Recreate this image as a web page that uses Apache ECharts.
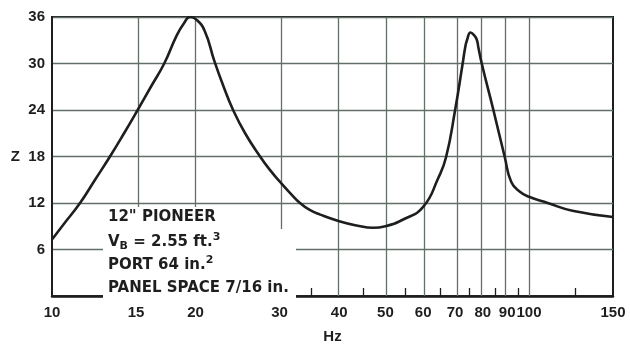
<!DOCTYPE html>
<html>
<head>
<meta charset="utf-8">
<script src="https://cdn.jsdelivr.net/npm/echarts@6/dist/echarts.min.js"></script>
<style>
  html, body { margin: 0; padding: 0; background: #fff; }
  #chart { width: 630px; height: 349px; }
</style>
</head>
<body>
<div id="chart"></div>
<script>
// impedance curve (Hz, ohms)
const freqHz = [10, 10.56, 11.45, 12.31, 13.23, 14.16, 15.12, 16.12, 17.19, 18.25, 18.91, 19.47, 20.05, 20.9, 21.9, 22.9, 23.97, 25.4, 27.3, 28.6, 30, 31.5, 33.1, 34.7, 36.5, 40, 43.5, 47.1, 50, 54.6, 60, 64.5, 67, 70, 72.6, 73.5, 74.2, 75.4, 76.6, 77.7, 78.3, 79.6, 84.2, 88.9, 91.8, 95.7, 100, 109.4, 123.3, 150];
const impedance = [7.3, 9.2, 12, 15, 18, 21, 24, 27, 30, 33.6, 35.2, 36, 35.7, 34.2, 30.3, 27, 24, 21.0, 18, 16.3, 14.8, 13.35, 12, 11.1, 10.5, 9.65, 9.1, 8.8, 9.0, 9.9, 11.5, 15.2, 17.9, 24, 30, 32.1, 33.1, 34, 33.7, 33.1, 32.1, 30, 24, 18, 14.7, 13.45, 12.8, 12, 11, 10.2];

const xMajorTicks = [10, 15, 20, 30, 40, 50, 60, 70, 80, 90, 100, 150];
const xMinorTicks = [25, 35, 45, 55, 65, 75, 85, 95, 125];
const yMin = 0, yMax = 36, yStep = 6;

const ink = '#1e1e1e';
const gridInk = '#627068';
const tickFont = 'Liberation Sans';
const noteFont = 'DejaVu Sans';

const chart = echarts.init(document.getElementById('chart'), null, { renderer: 'canvas' });

const lg = v => Math.log10(v);
const labelStyle = { color: ink, fontSize: 15, fontWeight: 'bold', fontFamily: tickFont };

const option = {
  backgroundColor: '#fff',
  animation: false,
  grid: {
    left: 52, right: 17, top: 17, bottom: 44,
    show: true, borderColor: ink, borderWidth: 2
  },
  xAxis: {
    type: 'value',
    min: lg(10),
    max: lg(150),
    name: 'Hz',
    nameLocation: 'middle',
    nameGap: 33,
    nameTextStyle: labelStyle,
    axisLine: { show: true, lineStyle: { color: ink, width: 2.5 } },
    axisTick: {
      show: true, inside: true, length: 8,
      customValues: xMinorTicks.map(lg),
      lineStyle: { color: ink, width: 1.3 }
    },
    axisLabel: Object.assign({
      customValues: xMajorTicks.map(lg),
      formatter: v => String(Math.round(Math.pow(10, v))),
      margin: 9
    }, labelStyle),
    splitLine: { show: false }
  },
  yAxis: {
    type: 'value',
    min: yMin, max: yMax, interval: yStep,
    name: 'Z',
    nameLocation: 'middle',
    nameRotate: 0,
    nameGap: 32,
    nameTextStyle: labelStyle,
    axisLine: { show: true, lineStyle: { color: ink, width: 2 } },
    axisTick: { show: false },
    axisLabel: Object.assign({
      formatter: v => (v === 0 ? '' : String(v)),
      margin: 7
    }, labelStyle),
    splitLine: { lineStyle: { color: gridInk, width: 1.3 } }
  },
  series: [
    {
      // vertical grid lines at the labelled frequencies
      type: 'line',
      data: [],
      z: 1,
      markLine: {
        silent: true,
        symbol: 'none',
        z: 1,
        label: { show: false },
        lineStyle: { color: gridInk, width: 1.3, type: 'solid' },
        data: xMajorTicks.slice(1, -1).map(v => ({ xAxis: lg(v) }))
      }
    },
    {
      type: 'line',
      z: 5,
      smooth: 0.5,
      showSymbol: false,
      lineStyle: { color: ink, width: 2.6 },
      data: freqHz.map((f, i) => [lg(f), impedance[i]])
    }
  ],
  graphic: [
    { type: 'rect', z: 50, shape: { x: 103, y: 207, width: 118, height: 22 }, style: { fill: '#fff' } },
    { type: 'rect', z: 50, shape: { x: 103, y: 229, width: 193, height: 70 }, style: { fill: '#fff' } },
    {
      type: 'text', z: 60, left: 108, top: 210,
      style: { text: '12" PIONEER', fill: ink, font: 'bold 15px "DejaVu Sans"' }
    },
    {
      type: 'text', z: 60, left: 108, top: 232,
      style: {
        text: '{t|V}{s|B}{t| = 2.55 ft.}{p|3}',
        rich: {
          t: { fill: ink, fontSize: 15, fontWeight: 'bold', fontFamily: noteFont, lineHeight: 20, verticalAlign: 'middle' },
          s: { fill: ink, fontSize: 11, fontWeight: 'bold', fontFamily: noteFont, lineHeight: 20, verticalAlign: 'bottom' },
          p: { fill: ink, fontSize: 11, fontWeight: 'bold', fontFamily: noteFont, lineHeight: 20, verticalAlign: 'top' }
        }
      }
    },
    {
      type: 'text', z: 60, left: 108, top: 255,
      style: {
        text: '{t|PORT 64 in.}{p|2}',
        rich: {
          t: { fill: ink, fontSize: 15, fontWeight: 'bold', fontFamily: noteFont, lineHeight: 20, verticalAlign: 'middle' },
          p: { fill: ink, fontSize: 11, fontWeight: 'bold', fontFamily: noteFont, lineHeight: 20, verticalAlign: 'top' }
        }
      }
    },
    {
      type: 'text', z: 60, left: 108, top: 281,
      style: { text: 'PANEL SPACE 7/16 in.', fill: ink, font: 'bold 15px "DejaVu Sans"' }
    }
  ]
};

chart.setOption(option);
</script>
</body>
</html>
